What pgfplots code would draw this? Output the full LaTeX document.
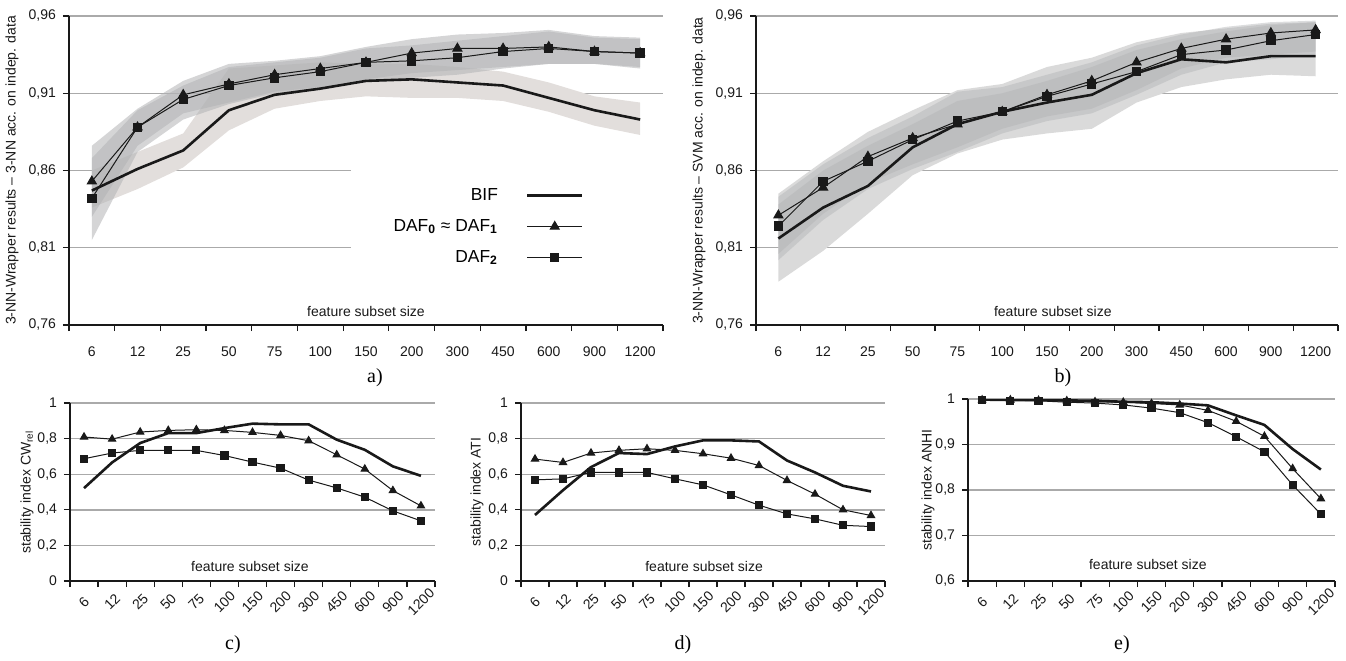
\documentclass[border=0pt]{standalone}
\usepackage{pgfplots}
\pgfplotsset{compat=1.18}
\usepackage{fontspec}
\setmainfont{Liberation Sans}
\newfontfamily\capfont{Liberation Serif}

\definecolor{bifband}{RGB}{226,222,220}
\definecolor{bifbandb}{RGB}{218,218,218}
\definecolor{dafband}{RGB}{178,179,181}
\definecolor{gridgray}{RGB}{170,170,170}
\definecolor{ink}{RGB}{25,25,25}

\pgfplotsset{
  panel/.style={
    scale only axis, anchor=north west,
    axis x line*=bottom, axis y line*=left,
    axis line style={-, ink, line width=0.7pt},
    xmin=-0.5, xmax=12.5,
    xtick={-0.5,0.5,...,12.5},
    xticklabels={6,12,25,50,75,100,150,200,300,450,600,900,1200},
    x tick label as interval,
    tick align=outside,
    major tick length=3pt,
    tick style={ink, line width=0.6pt},
    ymajorgrids,
    major grid style={gridgray, line width=0.7pt},
    tick label style={font=\fontsize{7}{8}\selectfont, text=ink},
    label style={font=\fontsize{7}{8}\selectfont, text=ink},
    xlabel={feature subset size},
    /pgf/number format/assume math mode=true,
  },
  toppanel/.style={
    panel, width=297pt, height=154.5pt,
    ymin=0.76, ymax=0.96,
    ytick={0.76,0.81,0.86,0.91,0.96},
    yticklabel style={/pgf/number format/.cd, fixed, fixed zerofill, precision=2, use comma, assume math mode=true},
    xticklabel style={yshift=-4.5pt},
    xlabel style={at={(axis description cs:0.5,0.045)}, anchor=center},
  },
  botpanel/.style={
    panel, width=182.5pt, height=89pt,
    yticklabel style={/pgf/number format/.cd, fixed, precision=1, use comma, assume math mode=true},
    xticklabel style={yshift=-7.5pt, rotate=45, anchor=center, font=\fontsize{7}{8}\selectfont},
  },
  bif/.style={ink, line width=1.3pt, mark=none},
  dafa/.style={ink, line width=0.5pt, mark=triangle*, mark size=2.6pt, mark options={solid, fill=ink}},
  dafb/.style={ink, line width=0.5pt, mark=square*, mark size=2.1pt, mark options={solid, fill=ink}},
  dafas/.style={ink, line width=0.5pt, mark=triangle*, mark size=2.1pt, mark options={solid, fill=ink}},
  dafbs/.style={ink, line width=0.5pt, mark=square*, mark size=1.8pt, mark options={solid, fill=ink}},
}

\begin{document}
\begin{tikzpicture}
\useasboundingbox (0pt,0pt) rectangle (673pt,-330pt);

% ---------- a) 3-NN
\begin{axis}[toppanel, at={(34.5pt,-8pt)},
  ylabel={3-NN-Wrapper results -- 3-NN acc. on indep. data},
  ylabel style={at={(axis description cs:-0.096,0.5)}, anchor=center},
  legend style={at={(axis description cs:0.877,0.47)}, anchor=north east,
    draw=none, fill=none, font=\fontsize{8.7}{10}\selectfont, row sep=4pt,
    column sep=12pt},
  legend cell align=right, legend plot pos=right,
  legend image code/.code={\draw[mark repeat=2,mark phase=2,#1] plot coordinates {(0pt,0pt) (13.75pt,0pt) (27.5pt,0pt)};},
]
\addplot[draw=none, fill=bifband, forget plot] coordinates {
 (0,0.860) (1,0.872) (2,0.884) (3,0.926) (4,0.928) (5,0.930) (6,0.929) (7,0.929) (8,0.927) (9,0.924) (10,0.917) (11,0.908) (12,0.904)
 (12,0.883) (11,0.889) (10,0.898) (9,0.905) (8,0.907) (7,0.907) (6,0.908) (5,0.905) (4,0.900) (3,0.886) (2,0.862) (1,0.848) (0,0.836)};
\addplot[draw=none, fill=dafband, fill opacity=0.55, forget plot] coordinates {
 (0,0.876) (1,0.900) (2,0.918) (3,0.929) (4,0.931) (5,0.934) (6,0.940) (7,0.945) (8,0.948) (9,0.949) (10,0.951) (11,0.947) (12,0.946)
 (12,0.927) (11,0.929) (10,0.929) (9,0.927) (8,0.925) (7,0.923) (6,0.919) (5,0.914) (4,0.911) (3,0.904) (2,0.897) (1,0.876) (0,0.830)};
\addplot[draw=none, fill=dafband, fill opacity=0.55, forget plot] coordinates {
 (0,0.868) (1,0.899) (2,0.915) (3,0.927) (4,0.930) (5,0.933) (6,0.939) (7,0.941) (8,0.944) (9,0.947) (10,0.950) (11,0.946) (12,0.945)
 (12,0.926) (11,0.929) (10,0.929) (9,0.926) (8,0.922) (7,0.920) (6,0.918) (5,0.913) (4,0.910) (3,0.903) (2,0.893) (1,0.872) (0,0.815)};
\fill[white] (axis cs:5.67,0.783) rectangle (axis cs:12.5,0.874);
\addplot[bif] coordinates {
 (0,0.847) (1,0.861) (2,0.873) (3,0.899) (4,0.909) (5,0.913) (6,0.918) (7,0.919) (8,0.917) (9,0.915) (10,0.907) (11,0.899) (12,0.893)};
\addlegendentry{BIF}
\addplot[dafa] coordinates {
 (0,0.853) (1,0.888) (2,0.909) (3,0.916) (4,0.922) (5,0.926) (6,0.930) (7,0.936) (8,0.939) (9,0.939) (10,0.940) (11,0.937) (12,0.936)};
\addlegendentry{DAF\textsubscript{\textbf{0}} ≈ DAF\textsubscript{\textbf{1}}}
\addplot[dafb] coordinates {
 (0,0.842) (1,0.888) (2,0.906) (3,0.915) (4,0.920) (5,0.924) (6,0.930) (7,0.931) (8,0.933) (9,0.937) (10,0.939) (11,0.937) (12,0.936)};
\addlegendentry{DAF\textsubscript{\textbf{2}}}
\end{axis}

% ---------- b) SVM
\begin{axis}[toppanel, at={(378pt,-8pt)}, width=291pt,
  ylabel={3-NN-Wrapper results -- SVM acc. on indep. data},
  ylabel style={at={(axis description cs:-0.098,0.5)}, anchor=center},
  xlabel style={at={(axis description cs:0.51,0.045)}},
]
\addplot[draw=none, fill=bifbandb, forget plot] coordinates {
 (0,0.845) (1,0.866) (2,0.885) (3,0.899) (4,0.912) (5,0.916) (6,0.927) (7,0.933) (8,0.943) (9,0.949) (10,0.952) (11,0.955) (12,0.956)
 (12,0.921) (11,0.922) (10,0.919) (9,0.914) (8,0.904) (7,0.887) (6,0.884) (5,0.880) (4,0.871) (3,0.857) (2,0.832) (1,0.808) (0,0.788)};
\addplot[draw=none, fill=dafband, fill opacity=0.45, forget plot] coordinates {
 (0,0.843) (1,0.864) (2,0.881) (3,0.895) (4,0.911) (5,0.914) (6,0.922) (7,0.930) (8,0.941) (9,0.948) (10,0.953) (11,0.956) (12,0.957)
 (12,0.937) (11,0.935) (10,0.933) (9,0.926) (8,0.912) (7,0.900) (6,0.895) (5,0.887) (4,0.875) (3,0.864) (2,0.852) (1,0.832) (0,0.806)};
\addplot[draw=none, fill=dafband, fill opacity=0.45, forget plot] coordinates {
 (0,0.838) (1,0.860) (2,0.876) (3,0.890) (4,0.905) (5,0.910) (6,0.918) (7,0.927) (8,0.938) (9,0.945) (10,0.950) (11,0.954) (12,0.956)
 (12,0.935) (11,0.932) (10,0.930) (9,0.922) (8,0.909) (7,0.897) (6,0.892) (5,0.884) (4,0.872) (3,0.861) (2,0.848) (1,0.828) (0,0.802)};
\addplot[bif] coordinates {
 (0,0.816) (1,0.836) (2,0.850) (3,0.875) (4,0.890) (5,0.898) (6,0.904) (7,0.909) (8,0.923) (9,0.932) (10,0.930) (11,0.934) (12,0.934)};
\addplot[dafa] coordinates {
 (0,0.831) (1,0.849) (2,0.869) (3,0.881) (4,0.890) (5,0.898) (6,0.909) (7,0.918) (8,0.930) (9,0.939) (10,0.945) (11,0.949) (12,0.951)};
\addplot[dafb] coordinates {
 (0,0.824) (1,0.853) (2,0.866) (3,0.880) (4,0.892) (5,0.898) (6,0.908) (7,0.916) (8,0.924) (9,0.935) (10,0.938) (11,0.944) (12,0.948)};
\end{axis}

% ---------- c) CWrel
\begin{axis}[botpanel, at={(35pt,-201.5pt)},
  ymin=0, ymax=1, ytick={0,0.2,0.4,0.6,0.8,1},
  ylabel={stability index CW\textsubscript{rel}},
  ylabel style={at={(axis description cs:-0.118,0.5)}, anchor=center},
  xlabel style={at={(axis description cs:0.493,0.079)}, anchor=center},
]
\addplot[bif] coordinates {
 (0,0.522) (1,0.666) (2,0.775) (3,0.831) (4,0.831) (5,0.859) (6,0.884) (7,0.880) (8,0.880) (9,0.794) (10,0.737) (11,0.644) (12,0.591)};
\addplot[dafas] coordinates {
 (0,0.809) (1,0.797) (2,0.837) (3,0.846) (4,0.850) (5,0.846) (6,0.835) (7,0.818) (8,0.788) (9,0.709) (10,0.629) (11,0.508) (12,0.422)};
\addplot[dafbs] coordinates {
 (0,0.687) (1,0.719) (2,0.734) (3,0.734) (4,0.734) (5,0.705) (6,0.668) (7,0.634) (8,0.567) (9,0.523) (10,0.471) (11,0.394) (12,0.338)};
\end{axis}

% ---------- d) ATI
\begin{axis}[botpanel, at={(260.5pt,-201.5pt)}, width=182pt,
  ymin=0, ymax=1, ytick={0,0.2,0.4,0.6,0.8,1},
  ylabel={stability index ATI},
  ylabel style={at={(axis description cs:-0.121,0.5)}, anchor=center},
  xlabel style={at={(axis description cs:0.503,0.079)}, anchor=center},
]
\addplot[bif] coordinates {
 (0,0.371) (1,0.510) (2,0.640) (3,0.719) (4,0.713) (5,0.756) (6,0.790) (7,0.790) (8,0.784) (9,0.677) (10,0.610) (11,0.535) (12,0.503)};
\addplot[dafas] coordinates {
 (0,0.685) (1,0.666) (2,0.719) (3,0.734) (4,0.743) (5,0.734) (6,0.715) (7,0.690) (8,0.649) (9,0.565) (10,0.488) (11,0.400) (12,0.368)};
\addplot[dafbs] coordinates {
 (0,0.568) (1,0.574) (2,0.610) (3,0.610) (4,0.610) (5,0.574) (6,0.540) (7,0.484) (8,0.426) (9,0.377) (10,0.349) (11,0.313) (12,0.306)};
\end{axis}

% ---------- e) ANHI
\begin{axis}[botpanel, at={(484pt,-199.5pt)}, width=183.5pt, height=91pt,
  ymin=0.6, ymax=1, ytick={0.6,0.7,0.8,0.9,1},
  ylabel={stability index ANHI},
  ylabel style={at={(axis description cs:-0.109,0.5)}, anchor=center},
  xlabel style={at={(axis description cs:0.49,0.088)}, anchor=center},
]
\addplot[bif] coordinates {
 (0,0.999) (1,0.999) (2,0.998) (3,0.997) (4,0.996) (5,0.994) (6,0.993) (7,0.990) (8,0.986) (9,0.964) (10,0.943) (11,0.890) (12,0.845)};
\addplot[dafas] coordinates {
 (0,0.998) (1,0.998) (2,0.997) (3,0.996) (4,0.994) (5,0.993) (6,0.990) (7,0.987) (8,0.975) (9,0.951) (10,0.918) (11,0.847) (12,0.781)};
\addplot[dafbs] coordinates {
 (0,0.997) (1,0.996) (2,0.996) (3,0.993) (4,0.991) (5,0.987) (6,0.980) (7,0.970) (8,0.948) (9,0.917) (10,0.884) (11,0.811) (12,0.747)};
\end{axis}

\node[font=\capfont\fontsize{10}{11}\selectfont] at (187.5pt,-189pt) {a)};
\node[font=\capfont\fontsize{10}{11}\selectfont] at (531.5pt,-189pt) {b)};
\node[font=\capfont\fontsize{10}{11}\selectfont] at (116.5pt,-322.5pt) {c)};
\node[font=\capfont\fontsize{10}{11}\selectfont] at (341.5pt,-322.5pt) {d)};
\node[font=\capfont\fontsize{10}{11}\selectfont] at (561pt,-322.5pt) {e)};
\end{tikzpicture}
\end{document}
